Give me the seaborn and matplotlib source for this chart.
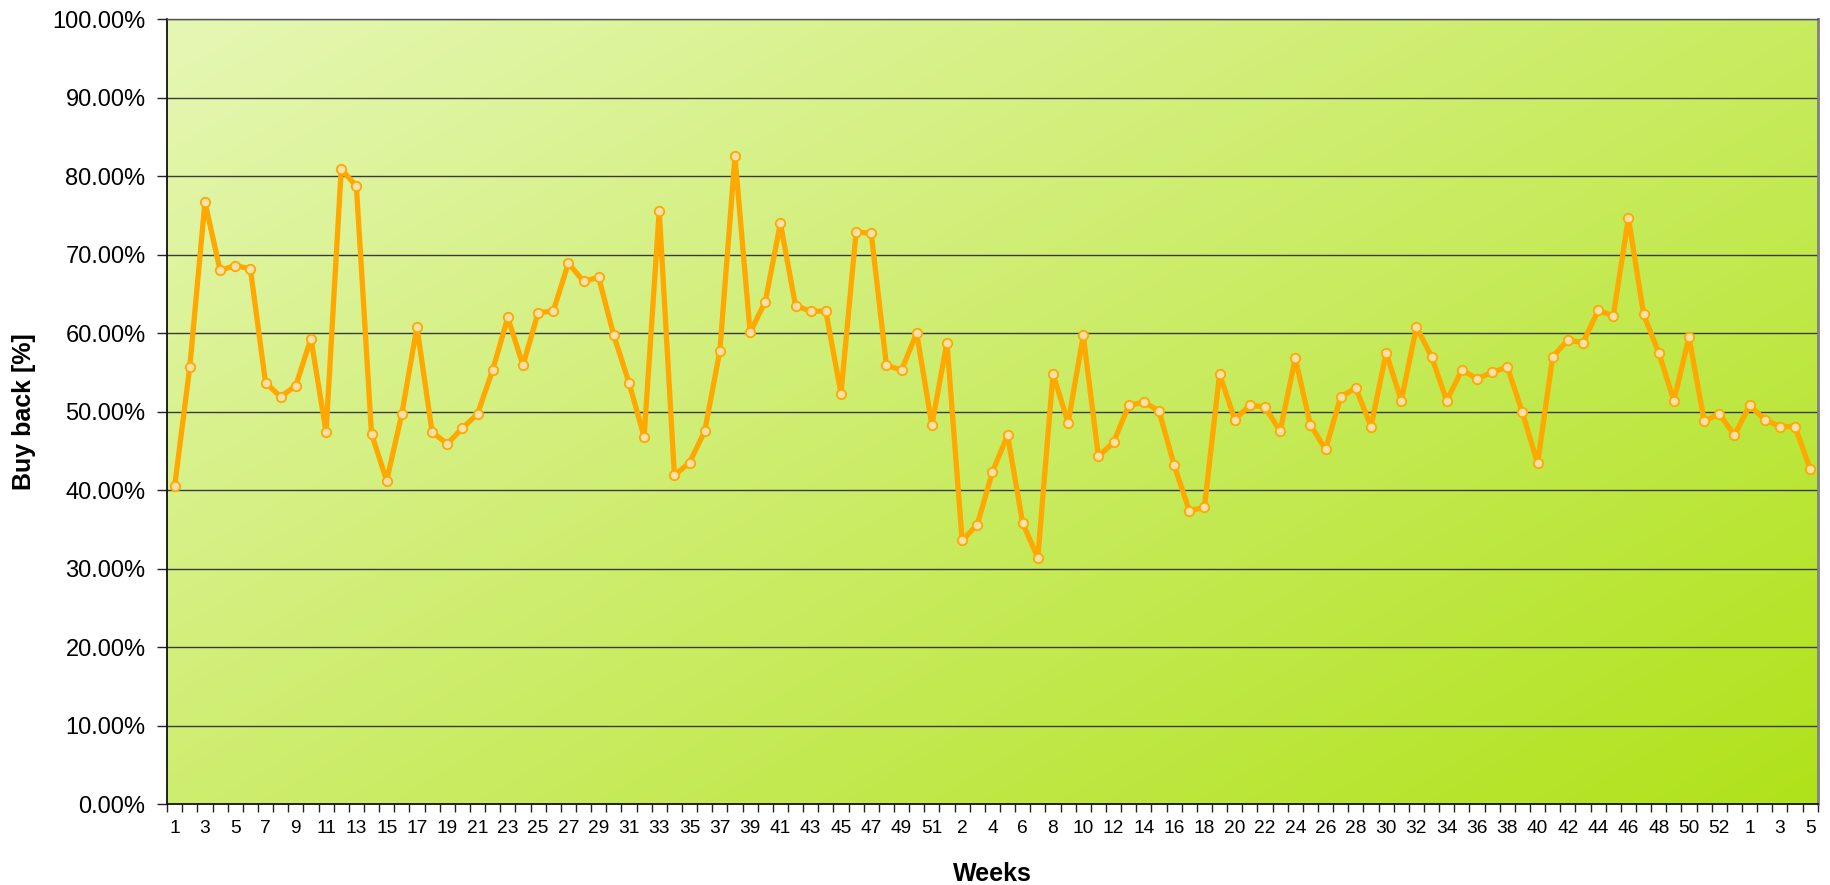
import numpy as np
import pandas as pd
import matplotlib
matplotlib.use("Agg")
import matplotlib.pyplot as plt
import seaborn as sns
from matplotlib.ticker import PercentFormatter, FixedLocator, NullFormatter

# ---- data ----
year1_weeks = list(range(1, 52))   # 51 weeks
year2_weeks = list(range(1, 54))   # 53 weeks
year3_weeks = list(range(1, 6))    # 5 weeks
week_labels = [str(w) for w in year1_weeks + year2_weeks + year3_weeks]

buy_back = [
    40.5, 55.7, 76.7, 68.0, 68.6, 68.2, 53.7, 51.9, 53.3, 59.3,
    47.4, 80.9, 78.7, 47.2, 41.2, 49.7, 60.8, 47.4, 45.9, 47.9,
    49.7, 55.3, 62.0, 55.9, 62.6, 62.8, 68.9, 66.6, 67.1, 59.7,
    53.7, 46.8, 75.6, 41.9, 43.5, 47.5, 57.7, 82.5, 60.1, 64.0,
    74.0, 63.5, 62.8, 62.8, 52.3, 72.9, 72.7, 55.9, 55.3, 60.0,
    48.3, 58.8, 33.6, 35.6, 42.3, 47.0, 35.8, 31.4, 54.8, 48.6,
    59.7, 44.3, 46.1, 50.8, 51.2, 50.1, 43.2, 37.4, 37.8, 54.8,
    49.0, 50.8, 50.6, 47.5, 56.8, 48.3, 45.2, 51.9, 53.0, 48.1,
    57.5, 51.4, 60.8, 57.0, 51.4, 55.3, 54.2, 55.0, 55.7, 49.9,
    43.4, 57.0, 59.1, 58.8, 62.9, 62.2, 74.7, 62.4, 57.5, 51.4,
    59.5, 48.8, 49.7, 47.0, 50.8, 49.0, 48.1, 48.1, 42.7,
]

df = pd.DataFrame({"idx": np.arange(len(buy_back)), "value": buy_back})

# ---- figure ----
fig = plt.figure(figsize=(18.3, 8.85), dpi=100)
ax = fig.add_axes([0.0913, 0.0912, 0.9933 - 0.0913, 0.9785 - 0.0912])

n = len(buy_back)

# gradient background (top-left pale -> bottom-right vivid)
H, W = 200, 400
yy, xx = np.mgrid[0:1:H * 1j, 0:1:W * 1j]   # yy: 0 at top row
t = np.clip((xx * 0.55 + yy * 0.45), 0, 1)
c0 = np.array([230, 247, 180]) / 255.0
c1 = np.array([176, 226, 26]) / 255.0
img = c0[None, None, :] * (1 - t[..., None]) + c1[None, None, :] * t[..., None]
ax.imshow(img, extent=[-0.5, n - 0.5, 0, 100], origin="upper", aspect="auto",
          zorder=0, interpolation="bilinear")
ax.set_xlim(-0.5, n - 0.5)
ax.set_ylim(0, 100)

# gridlines
for g in range(10, 101, 10):
    ax.axhline(g, color="#3a3a3a", lw=1.0, zorder=1)

sns.lineplot(data=df, x="idx", y="value", ax=ax, color="#FFA800", lw=3.8,
             marker="o", markersize=6.8, markerfacecolor="#FFE0A8",
             markeredgecolor="#FFA800", markeredgewidth=1.3, zorder=3)

# axes styling
ax.yaxis.set_major_locator(FixedLocator(np.arange(0, 101, 10)))
ax.yaxis.set_major_formatter(PercentFormatter(decimals=2))
ax.tick_params(axis="y", which="major", length=7, width=1, pad=8.5,
               labelsize=17, color="#222222")

ax.set_xticks(np.arange(0, n, 2))
ax.set_xticklabels(week_labels[::2])
ax.xaxis.set_minor_locator(FixedLocator(np.arange(-0.5, n, 1)))
ax.xaxis.set_minor_formatter(NullFormatter())
ax.tick_params(axis="x", which="major", length=0, pad=11.5, labelsize=13.8)
ax.tick_params(axis="x", which="minor", length=6, width=1, color="#222222")

for lab in ax.get_xticklabels() + ax.get_yticklabels():
    lab.set_fontfamily("Liberation Sans")

for s in ["left", "bottom"]:
    ax.spines[s].set_color("#111111")
    ax.spines[s].set_linewidth(1.3)
ax.spines["right"].set_color("#808080")
ax.spines["right"].set_linewidth(2)
ax.spines["top"].set_color("#555555")
ax.spines["top"].set_linewidth(1.0)

ax.set_xlabel("Weeks", fontsize=18, fontweight="bold",
              fontfamily="Liberation Sans")
ax.set_ylabel("Buy back [%]", fontsize=18, fontweight="bold",
              fontfamily="Liberation Sans")
ax.xaxis.set_label_coords(0.5, -0.074)
ax.yaxis.set_label_coords(-0.0795, 0.5)

fig.savefig("out.png", dpi=100, facecolor="white")
